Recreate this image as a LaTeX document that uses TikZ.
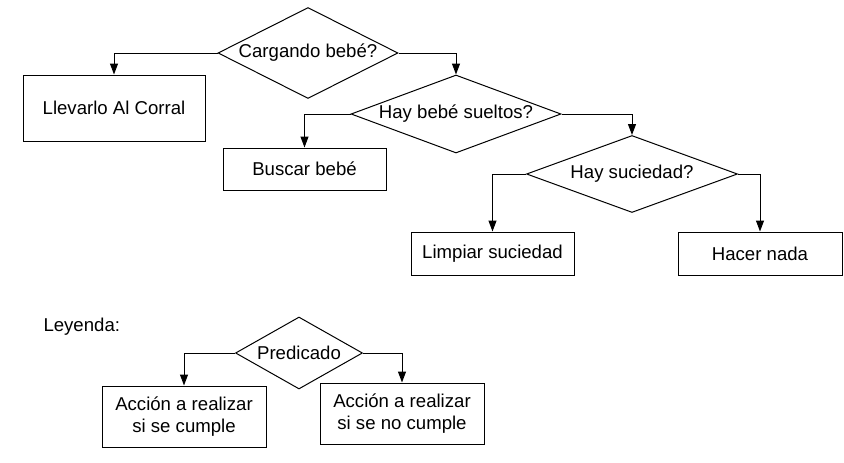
\documentclass[tikz,border=0pt]{standalone}
\usepackage{fontspec}
\setmainfont{Liberation Sans}
\usetikzlibrary{shapes.geometric,arrows.meta}
\tikzset{%
caja/.style 2 args     = {draw,rectangle,minimum width=#1,minimum height=#2,
                          inner sep=0pt,align=center},
pregunta/.style n args = {3}{draw,diamond,aspect=#3,minimum width=#1,
                          minimum height=#2,inner sep=0pt},
flecha/.style          = {-{Triangle[length=11pt,width=8pt]}}}

\begin{document}
\begin{tikzpicture}[x=1pt,y=-1pt,line width=1pt,
                    font=\fontsize{18.6pt}{21.5pt}\selectfont]
   \useasboundingbox (0,0) rectangle (844,463);
   % arbol de decision
   \node[pregunta={180pt}{91pt}{1.98}] (cargando) at (308,53)    {Cargando bebé?};
   \node[caja={182pt}{66pt}]           (corral)   at (114,108)   {Llevarlo Al Corral};
   \node[pregunta={210pt}{78pt}{2.69}] (sueltos)  at (456,114)   {Hay bebé sueltos?};
   \node[caja={163pt}{42pt}]           (buscar)   at (304.5,169) {Buscar bebé};
   \node[pregunta={211pt}{77pt}{2.74}] (suciedad) at (632,174)   {Hay suciedad?};
   \node[caja={163pt}{43pt}]           (limpiar)  at (492.5,253.5) {Limpiar suciedad};
   \node[caja={164pt}{43pt}]           (nada)     at (760,253.5) {Hacer nada};

   \draw[flecha] (cargando.west) -| (corral.north);
   \draw[flecha] (cargando.east) -| (sueltos.north);
   \draw[flecha] (sueltos.west)  -| (buscar.north);
   \draw[flecha] (sueltos.east)  -| (suciedad.north);
   \draw[flecha] (suciedad.west) -| (limpiar.north);
   \draw[flecha] (suciedad.east) -| (nada.north);

   % leyenda
   \node[anchor=west,inner sep=0pt]    (leyenda)   at (43,327)   {Leyenda:};
   \node[pregunta={127pt}{72pt}{1.76}] (predicado) at (299,353)  {Predicado};
   \node[caja={164pt}{61pt}]           (cumple)    at (184,416.5) {Acción a realizar\\si se cumple};
   \node[caja={164pt}{61pt}]           (nocumple)  at (402,413.5) {Acción a realizar\\si se no cumple};

   \draw[flecha] (predicado.west) -| (cumple.north);
   \draw[flecha] (predicado.east) -| (nocumple.north);
\end{tikzpicture}
\end{document}
